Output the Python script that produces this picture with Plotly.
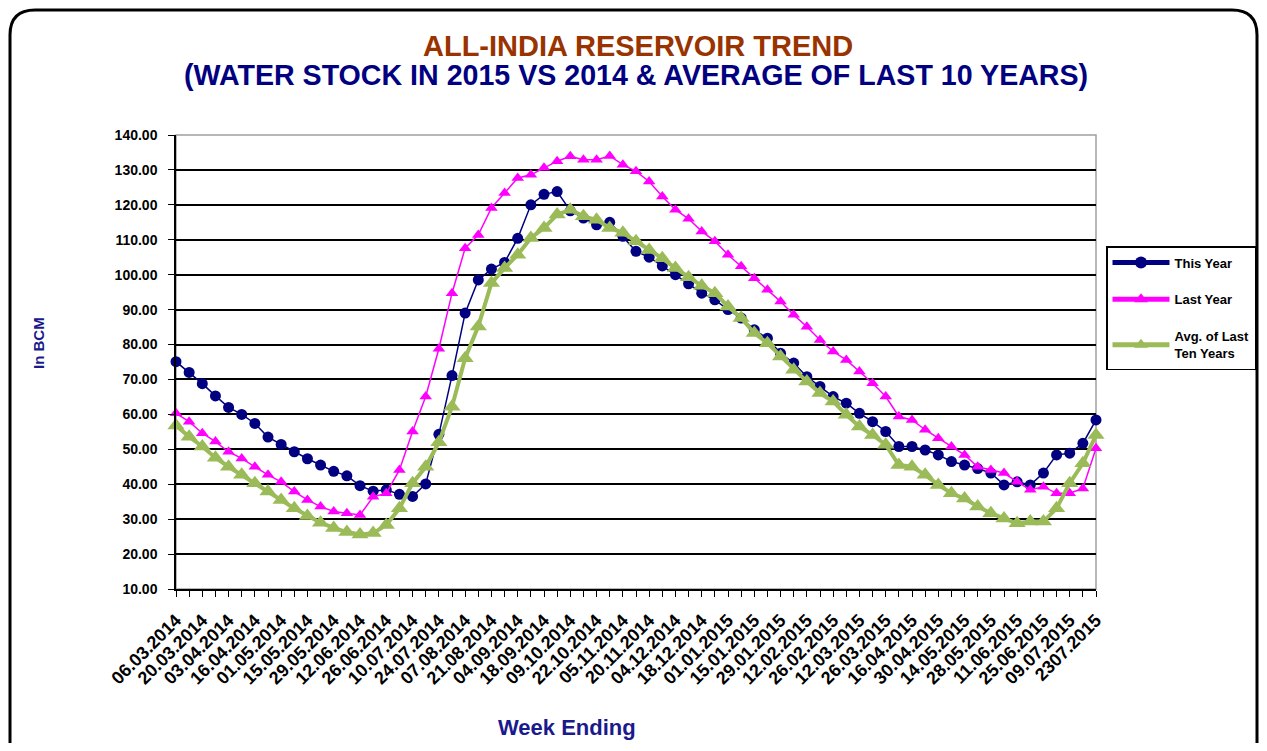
import plotly.graph_objects as go

# ---- data ----
week_labels = ["06.03.2014", "20.03.2014", "03.04.2014", "16.04.2014", "01.05.2014", "15.05.2014",
               "29.05.2014", "12.06.2014", "26.06.2014", "10.07.2014", "24.07.2014", "07.08.2014",
               "21.08.2014", "04.09.2014", "18.09.2014", "09.10.2014", "22.10.2014", "05.11.2014",
               "20.11.2014", "04.12.2014", "18.12.2014", "01.01.2015", "15.01.2015", "29.01.2015",
               "12.02.2015", "26.02.2015", "12.03.2015", "26.03.2015", "16.04.2015", "30.04.2015",
               "14.05.2015", "28.05.2015", "11.06.2015", "25.06.2015", "09.07.2015", "2307.2015"]

this_year = [75.1, 72.0, 68.8, 65.3, 62.0, 60.0, 57.4, 53.5, 51.4, 49.3,
             47.3, 45.5, 43.7, 42.4, 39.6, 38.0, 38.4, 37.1, 36.5, 40.1,
             54.3, 71.1, 89.0, 98.5, 101.6, 103.5, 110.4, 120.0, 123.0, 123.8,
             118.3, 116.2, 114.3, 115.0, 111.0, 106.7, 105.0, 102.5, 100.0, 97.4,
             94.7, 92.8, 90.0, 87.6, 84.2, 81.8, 77.5, 74.7, 70.8, 68.0,
             65.1, 63.2, 60.3, 57.9, 55.1, 50.8, 50.8, 49.8, 48.4, 46.5,
             45.5, 44.5, 43.2, 39.8, 40.7, 39.8, 43.2, 48.4, 48.9, 51.7,
             58.4]

last_year = [60.3, 57.9, 54.6, 52.2, 49.3, 47.4, 45.0, 42.7, 40.7, 37.9,
             35.5, 33.6, 32.2, 31.7, 31.2, 36.4, 37.4, 44.1, 55.1, 65.1,
             78.8, 94.7, 107.6, 111.4, 119.1, 123.4, 127.7, 128.6, 130.6, 132.5,
             133.9, 132.9, 132.9, 134.0, 131.5, 129.6, 126.7, 122.4, 118.6, 116.0,
             112.4, 109.6, 105.7, 102.4, 99.0, 95.7, 92.3, 88.5, 85.1, 81.3,
             78.0, 75.6, 72.3, 68.9, 65.1, 59.4, 58.4, 55.6, 53.2, 50.8,
             48.4, 45.0, 44.1, 43.2, 40.7, 38.4, 39.3, 37.4, 37.4, 38.8,
             50.3]

avg_ten_years = [56.8, 53.6, 50.8, 47.6, 45.0, 42.7, 40.3, 37.9, 35.5, 33.1,
                 30.9, 29.0, 27.5, 26.3, 25.6, 26.0, 28.3, 33.1, 40.3, 45.0,
                 52.0, 62.2, 76.1, 85.2, 97.6, 101.9, 105.7, 110.5, 113.4, 117.2,
                 118.6, 116.7, 115.7, 113.4, 112.0, 109.6, 107.1, 104.7, 101.9, 99.3,
                 96.8, 94.7, 90.9, 87.6, 83.3, 80.4, 76.6, 72.8, 69.4, 66.1,
                 63.7, 59.9, 56.5, 54.1, 51.3, 45.5, 45.0, 42.7, 39.8, 37.4,
                 35.9, 33.6, 31.7, 30.2, 28.8, 29.3, 29.3, 33.1, 40.3, 46.0,
                 54.1]

week_index = list(range(len(this_year)))
label_positions = week_index[::2]

# ---- layout geometry (pixels in the page; the page body adds an 8px offset) ----
OFF = 8
W, H = 1267 - 2 * OFF, 751 - 2 * OFF
ML, MT = 176 - OFF, 135 - OFF
PW, PH = 1096 - 176, 589 - 135
MR = W - ML - PW
MB = H - MT - PH


def px(x):
    return (x - OFF - ML) / PW


def py(y):
    return (H - MB - (y - OFF)) / PH


FONT = "Arial, Liberation Sans, sans-serif"

fig = go.Figure()
fig.add_trace(go.Scatter(x=week_index, y=this_year, mode="lines+markers", name="This Year",
                         legendgroup="a", cliponaxis=False,
                         line=dict(color="#000080", width=1.5),
                         marker=dict(symbol="circle", size=11, color="#000080")))
fig.add_trace(go.Scatter(x=week_index, y=last_year, mode="lines+markers", name="Last Year",
                         legendgroup="b", cliponaxis=False,
                         line=dict(color="#FF00FF", width=1.5),
                         marker=dict(symbol="triangle-up", size=11, color="#FF00FF")))
fig.add_trace(go.Scatter(x=week_index, y=avg_ten_years, mode="lines+markers",
                         name="Avg. of Last<br>Ten Years", legendgroup="c", cliponaxis=False,
                         line=dict(color="#9BBB59", width=4),
                         marker=dict(symbol="triangle-up", size=15, color="#9BBB59")))

# outer rounded frame
x0, y0, x1, y1 = px(10), py(10), px(1257), py(800)
rx, ry = 25 / PW, 25 / PH
path = (f"M {x0},{y1} L {x0},{y0 - ry} Q {x0},{y0} {x0 + rx},{y0} L {x1 - rx},{y0} "
        f"Q {x1},{y0} {x1},{y0 - ry} L {x1},{y1}")
fig.add_shape(type="path", path=path, xref="paper", yref="paper",
              line=dict(color="black", width=3), layer="below")
# plot area border (gray)
fig.add_shape(type="rect", x0=0, x1=1, y0=0, y1=1, xref="paper", yref="paper",
              line=dict(color="#a0a0a0", width=1.5), layer="below")

fig.add_annotation(text="<b>ALL-INDIA RESERVOIR TREND</b>", x=px(638), y=py(46),
                   xref="paper", yref="paper", showarrow=False, xanchor="center", yanchor="middle",
                   font=dict(family=FONT, size=29, color="#993300"))
fig.add_annotation(text="<b>(WATER STOCK IN 2015 VS 2014 &amp; AVERAGE OF LAST 10 YEARS)</b>",
                   x=px(636), y=py(75), xref="paper", yref="paper", showarrow=False,
                   xanchor="center", yanchor="middle",
                   font=dict(family=FONT, size=28.6, color="#000080"))
fig.add_annotation(text="<b>Week Ending</b>", x=px(567), y=py(727), xref="paper", yref="paper",
                   showarrow=False, xanchor="center", yanchor="middle",
                   font=dict(family=FONT, size=22, color="#1a1a8c"))
fig.add_annotation(text="<b>In BCM</b>", x=px(38), y=py(343), xref="paper", yref="paper",
                   showarrow=False, textangle=-90, xanchor="center", yanchor="middle",
                   font=dict(family=FONT, size=15, color="#1a1a8c"))

fig.update_layout(
    width=W, height=H,
    margin=dict(l=ML, r=MR, t=MT, b=MB, autoexpand=False),
    paper_bgcolor="white", plot_bgcolor="white",
    font=dict(family=FONT, color="black"),
    showlegend=True,
    legend=dict(x=px(1106), y=py(246), xanchor="left", yanchor="top",
                bordercolor="black", borderwidth=1.5, bgcolor="white",
                font=dict(family=FONT, size=13, color="black", weight="bold"),
                itemsizing="constant", tracegroupgap=17, itemwidth=57),
    xaxis=dict(range=[0, 70], tickmode="array", tickvals=label_positions, ticktext=week_labels,
               tickangle=-45, tickfont=dict(family=FONT, size=18, color="black", weight="bold"),
               ticks="outside", ticklen=6, tickcolor="black", tickwidth=1, ticklabelstandoff=6,
               minor=dict(dtick=1, tick0=0, ticks="outside", ticklen=6, tickcolor="black", showgrid=False),
               showgrid=False, showline=True, linecolor="black", linewidth=1.5, zeroline=False,
               automargin=False),
    yaxis=dict(range=[10, 140], dtick=10, tick0=10, tickformat=".2f",
               tickfont=dict(family=FONT, size=14, color="black", weight="bold"),
               ticks="outside", ticklen=6, tickcolor="black", ticklabelstandoff=8,
               showgrid=True, gridcolor="black", gridwidth=1.6,
               showline=True, linecolor="black", linewidth=1.5, zeroline=False,
               automargin=False),
)

fig.write_html("out.html")
